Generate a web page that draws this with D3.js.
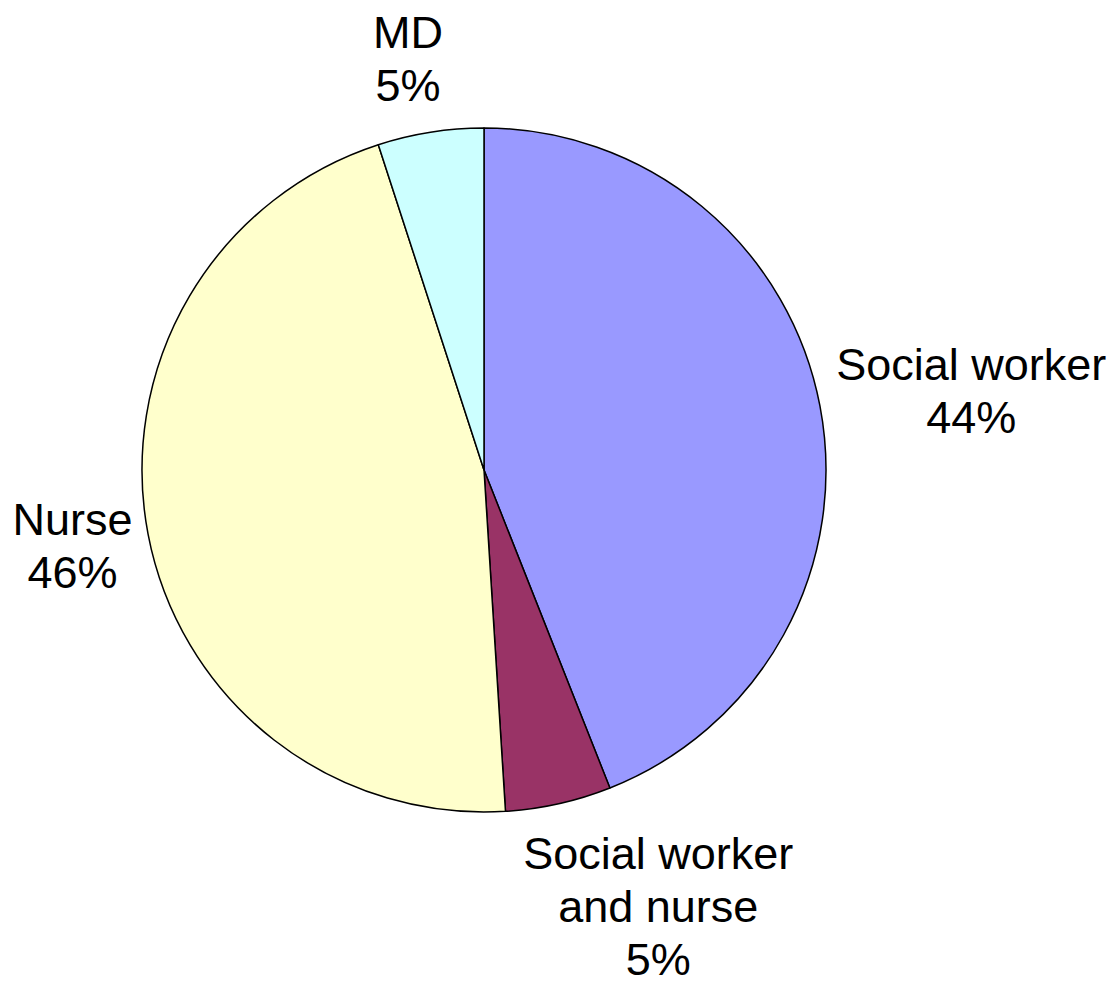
<!DOCTYPE html>
<html>
<head>
<meta charset="utf-8">
<script src="https://cdn.jsdelivr.net/npm/d3@7"></script>
<style>
  html, body { margin: 0; padding: 0; background: #ffffff; }
  svg { display: block; }
</style>
</head>
<body>
<svg id="chart" width="1112" height="984"></svg>
<script>
// ---- data ----
const categories = ["Social worker", "Social worker and nurse", "Nurse", "MD"];
const labelLines = [["Social worker"], ["Social worker", "and nurse"], ["Nurse"], ["MD"]];
const values = [44, 5, 46, 5];
const percentLabels = ["44%", "5%", "46%", "5%"];
const colors = ["#9999FF", "#993366", "#FFFFCC", "#CCFFFF"];

// ---- layout ----
const W = 1112, H = 984;
const cx = 484, cy = 470, R = 342;
const fontSize = 45, lineH = 53, capH = 32, gap = 19;
const labelNudge = [[0, -4], [66, 16], [2, 0], [-14, -13]];

const svg = d3.select("#chart");
const g = svg.append("g").attr("transform", `translate(${cx},${cy})`);

const pie = d3.pie().sort(null).value(d => d.value).startAngle(0).endAngle(2 * Math.PI);
const data = categories.map((c, i) => ({ name: c, value: values[i], color: colors[i], lines: labelLines[i].concat([percentLabels[i]]), i }));
const arcs = pie(data);
const arc = d3.arc().innerRadius(0).outerRadius(R);

g.selectAll("path.slice")
  .data(arcs)
  .enter().append("path")
  .attr("class", "slice")
  .attr("d", arc)
  .attr("fill", d => d.data.color)
  .attr("stroke", "#000")
  .attr("stroke-width", 1.5)
  .attr("stroke-linejoin", "round");

// labels
arcs.forEach(a => {
  const mid = (a.startAngle + a.endAngle) / 2;
  const s = Math.sin(mid), c = Math.cos(mid);
  const lines = a.data.lines;
  const t = svg.append("text")
    .attr("font-family", "'Liberation Sans', Arial, sans-serif")
    .attr("font-size", fontSize)
    .attr("fill", "#000")
    .attr("text-anchor", "middle");
  lines.forEach(l => t.append("tspan").text(l));
  let w = 0;
  t.selectAll("tspan").each(function () { w = Math.max(w, this.getComputedTextLength()); });
  const h = (lines.length - 1) * lineH + capH;
  const ax = cx + (R + gap) * s, ay = cy - (R + gap) * c;
  const nx = labelNudge[a.data.i][0], ny = labelNudge[a.data.i][1];
  const bx = ax + (w / 2) * s + nx;
  const by = ay - (h / 2) * c + ny;
  const firstBase = by - h / 2 + capH;
  t.selectAll("tspan")
    .attr("x", bx)
    .attr("y", (d, k) => firstBase + k * lineH);
});
</script>
</body>
</html>
